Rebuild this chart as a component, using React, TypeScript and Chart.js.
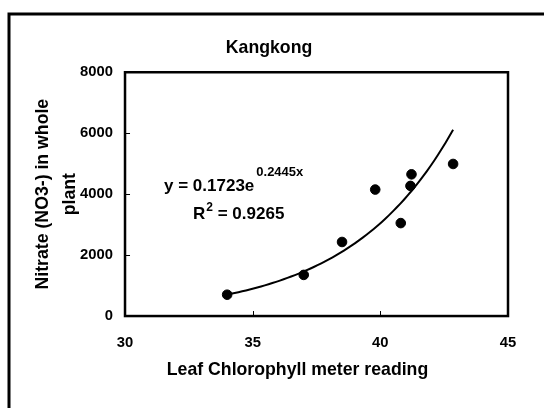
import React, { useEffect, useRef } from "react";
import { Chart, registerables } from "chart.js";

Chart.register(...registerables);

const chartTitle = "Kangkong";
const xAxisTitle = "Leaf Chlorophyll meter reading";
const yAxisTitle = ["Nitrate (NO3-) in whole", "plant"];

// Leaf chlorophyll meter readings (x) and nitrate in whole plant (y)
const chlorophyll = [34.0, 37.0, 38.5, 39.8, 40.8, 41.22, 41.18, 42.85];
const nitrate = [700, 1350, 2430, 4150, 3050, 4650, 4270, 4990];

// Exponential trendline shown on the chart: y = a * e^(b x)
const trendA = 0.1723;
const trendB = 0.2445;
const equationMain = "y = 0.1723e";
const equationExp = "0.2445x";
const rSquaredLabel = "R";
const rSquaredSup = "2";
const rSquaredValue = " = 0.9265";

const xTicks = [30, 35, 40, 45];
const yTicks = [0, 2000, 4000, 6000, 8000];

const FONT = "'Liberation Sans', Arial, sans-serif";

export default function App() {
  const canvasRef = useRef<HTMLCanvasElement | null>(null);

  useEffect(() => {
    const canvas = canvasRef.current;
    if (!canvas) return;

    const xMin = Math.min(...chlorophyll);
    const xMax = Math.max(...chlorophyll);
    const steps = 60;
    const trend: { x: number; y: number }[] = [];
    for (let i = 0; i <= steps; i++) {
      const x = xMin + ((xMax - xMin) * i) / steps;
      trend.push({ x, y: trendA * Math.exp(trendB * x) });
    }

    const framePlugin = {
      id: "framePlugin",
      beforeDraw(chart: any) {
        const ctx = chart.ctx;
        ctx.save();
        ctx.fillStyle = "#ffffff";
        ctx.fillRect(0, 0, chart.width, chart.height);
        ctx.restore();
      },
      afterDraw(chart: any) {
        const ctx = chart.ctx;
        const area = chart.chartArea;
        const xs = chart.scales.x;
        const ys = chart.scales.y;
        ctx.save();
        // outer border (top and left visible)
        ctx.strokeStyle = "#000";
        ctx.lineWidth = 3;
        ctx.beginPath();
        ctx.moveTo(9, chart.height + 5);
        ctx.lineTo(9, 14);
        ctx.lineTo(chart.width + 5, 14);
        ctx.stroke();
        // plot area box
        ctx.lineWidth = 2.5;
        ctx.strokeRect(area.left, area.top, area.right - area.left, area.bottom - area.top);
        // inner tick marks
        ctx.lineWidth = 1;
        ctx.beginPath();
        xTicks.forEach((v) => {
          if (v === xTicks[0] || v === xTicks[xTicks.length - 1]) return;
          const px = Math.round(xs.getPixelForValue(v)) + 0.5;
          ctx.moveTo(px, area.bottom);
          ctx.lineTo(px, area.bottom - 5);
        });
        yTicks.forEach((v) => {
          if (v === yTicks[0] || v === yTicks[yTicks.length - 1]) return;
          const py = Math.round(ys.getPixelForValue(v)) + 0.5;
          ctx.moveTo(area.left, py);
          ctx.lineTo(area.left + 5, py);
        });
        ctx.stroke();
        ctx.fillStyle = "#000";
        // x axis title
        ctx.font = `bold 17.7px ${FONT}`;
        ctx.textAlign = "center";
        ctx.textBaseline = "middle";
        ctx.fillText(xAxisTitle, (area.left + area.right) / 2 - 19, area.bottom + 54);
        // equation
        ctx.textBaseline = "alphabetic";
        ctx.textAlign = "left";
        const ex = area.left + 39;
        const ey = area.top + 119;
        ctx.font = `bold 17px ${FONT}`;
        ctx.fillText(equationMain, ex, ey);
        const w1 = ctx.measureText(equationMain).width;
        ctx.font = `bold 13px ${FONT}`;
        ctx.fillText(equationExp, ex + w1 + 2, ey - 15);
        const rx = area.left + 68;
        const ry = area.top + 147;
        ctx.font = `bold 17px ${FONT}`;
        ctx.fillText(rSquaredLabel, rx, ry);
        const w2 = ctx.measureText(rSquaredLabel).width;
        ctx.font = `bold 12px ${FONT}`;
        ctx.fillText(rSquaredSup, rx + w2 + 1, ry - 8);
        const w3 = ctx.measureText(rSquaredSup).width;
        ctx.font = `bold 17px ${FONT}`;
        ctx.fillText(rSquaredValue, rx + w2 + w3 + 1, ry);
        ctx.restore();
      },
    };

    const chart = new Chart(canvas, {
      type: "scatter",
      data: {
        datasets: [
          {
            label: "Data",
            data: chlorophyll.map((x, i) => ({ x, y: nitrate[i] })),
            backgroundColor: "#000",
            borderColor: "#000",
            pointRadius: 4.8,
            pointHoverRadius: 4.8,
            showLine: false,
          },
          {
            label: "Trend",
            data: trend,
            borderColor: "#000",
            borderWidth: 2,
            pointRadius: 0,
            showLine: true,
            fill: false,
            tension: 0,
          },
        ],
      },
      options: {
        animation: false,
        responsive: false,
        events: [],
        layout: { padding: { left: 30, right: 36, top: 37, bottom: 38.2 } },
        plugins: {
          legend: { display: false },
          tooltip: { enabled: false },
          title: {
            display: true,
            text: chartTitle,
            color: "#000",
            font: { family: FONT, size: 17.7, weight: "bold" },
            padding: { top: 0, bottom: 14 },
          },
        },
        scales: {
          x: {
            type: "linear",
            min: 30,
            max: 45,
            afterBuildTicks: (scale: any) => {
              scale.ticks = xTicks.map((v) => ({ value: v }));
            },
            ticks: {
              color: "#000",
              padding: 18,
              maxRotation: 0,
              font: { family: FONT, size: 14.8, weight: "bold" },
            },
            grid: { display: false, drawTicks: false, tickLength: 0 },
            border: { display: false },
            title: { display: false },
          },
          y: {
            type: "linear",
            min: 0,
            max: 8000,
            afterBuildTicks: (scale: any) => {
              scale.ticks = yTicks.map((v) => ({ value: v }));
            },
            ticks: {
              color: "#000",
              padding: 12,
              font: { family: FONT, size: 14.8, weight: "bold" },
              callback: (v: any) => String(v),
            },
            grid: { display: false, drawTicks: false, tickLength: 0 },
            border: { display: false },
            title: {
              display: true,
              text: yAxisTitle,
              color: "#000",
              font: { family: FONT, size: 17.7, weight: "bold", lineHeight: 1.5 },
              padding: { top: 0, bottom: -15 },
            },
          },
        },
      },
      plugins: [framePlugin],
    } as any);

    return () => {
      chart.destroy();
    };
  }, []);

  return (
    <div style={{ position: "absolute", left: 0, top: 0, width: 544, height: 408, background: "#fff" }}>
      <canvas ref={canvasRef} width={544} height={408} style={{ display: "block", width: 544, height: 408 }} />
    </div>
  );
}
